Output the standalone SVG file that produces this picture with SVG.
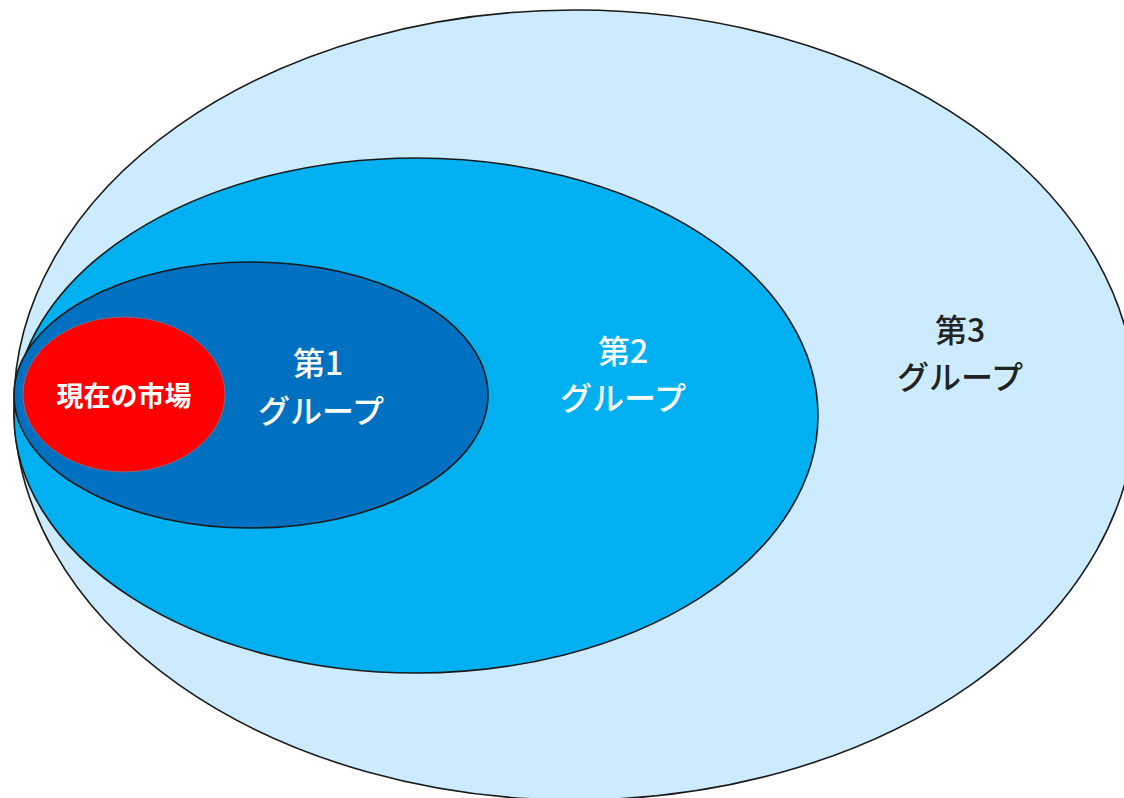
<svg xmlns="http://www.w3.org/2000/svg" width="1124" height="798" viewBox="0 0 1124 798">
<style>
.ring{stroke:#1a1a1a;stroke-width:1.6}
.lbl{font-family:"Noto Sans CJK JP","Noto Sans",sans-serif;font-size:32px;font-weight:500;text-anchor:middle}
.w{fill:#ffffff}
.d{fill:#222222}
</style>
<rect width="1124" height="798" fill="#ffffff"/>
<g id="group3">
<ellipse class="ring" cx="575" cy="405" rx="561" ry="395" fill="#CCEBFE"/>
<text class="lbl d" x="960" y="342">第3</text>
<text class="lbl d" x="960" y="389">グループ</text>
</g>
<g id="group2">
<ellipse class="ring" cx="416" cy="415.5" rx="402" ry="257.5" fill="#00B0F0"/>
<text class="lbl w" x="623" y="363">第2</text>
<text class="lbl w" x="623" y="410">グループ</text>
</g>
<g id="group1">
<ellipse class="ring" cx="251" cy="395" rx="237" ry="133" fill="#0070C0"/>
<text class="lbl w" x="318" y="375">第1</text>
<text class="lbl w" x="321" y="423">グループ</text>
</g>
<g id="current">
<ellipse cx="124" cy="394.5" rx="101" ry="77.5" fill="#FF0000" stroke="#7a6a8a" stroke-width="1"/>
<text x="124" y="406" font-family="'Noto Sans CJK JP','Noto Sans',sans-serif" font-size="27" font-weight="bold" fill="#ffffff" text-anchor="middle">現在の市場</text>
</g>
<g id="connectors"/>
</svg>
